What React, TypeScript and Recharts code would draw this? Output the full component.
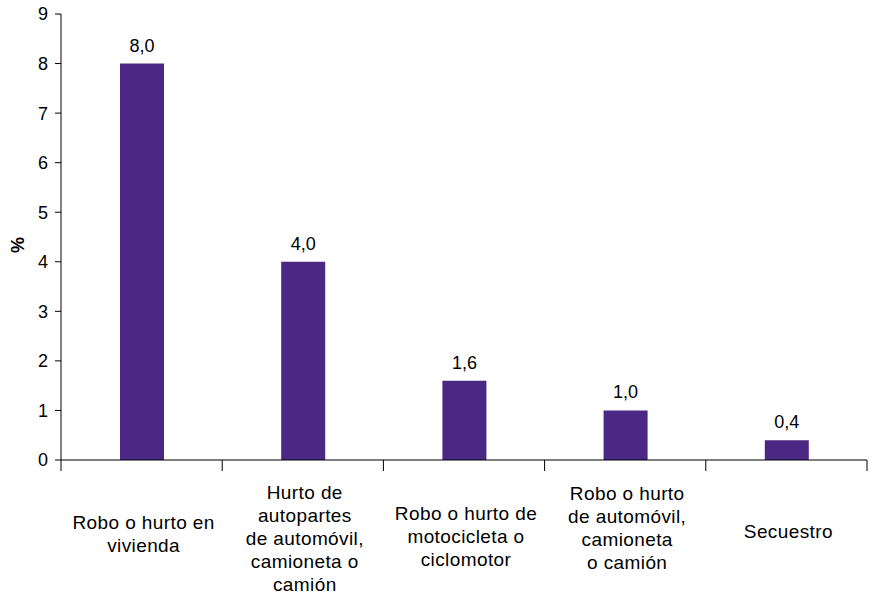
import React from 'react';
import { BarChart, Bar, XAxis, YAxis, LabelList } from 'recharts';

const categories = [
  'Robo o hurto en vivienda',
  'Hurto de autopartes de automóvil, camioneta o camión',
  'Robo o hurto de motocicleta o ciclomotor',
  'Robo o hurto de automóvil, camioneta o camión',
  'Secuestro',
];

const tickLines = [
  ['Robo o hurto en', 'vivienda'],
  ['Hurto de', 'autopartes', 'de automóvil,', 'camioneta o', 'camión'],
  ['Robo o hurto de', 'motocicleta o', 'ciclomotor'],
  ['Robo o hurto', 'de automóvil,', 'camioneta', 'o camión'],
  ['Secuestro'],
];

const values = [8.0, 4.0, 1.6, 1.0, 0.4];

const yTicks = [0, 1, 2, 3, 4, 5, 6, 7, 8, 9];

const data = categories.map((c, i) => ({ name: c, value: values[i], idx: i }));

const W = 871;
const H = 598;
const M = { top: 14, right: 4, left: 0, bottom: 0 };
const Y_AXIS_W = 61;
const X_AXIS_H = 138;
const PLOT_W = W - M.left - M.right - Y_AXIS_W;
const AXIS_Y = H - X_AXIS_H;
const FONT = '"Liberation Sans", Arial, Helvetica, sans-serif';
// first baseline offset below the axis line, per category
const FIRST_BASELINE = [69, 39, 60, 40, 78];
const LINE_H = 23;

const CategoryTick = (props: any) => {
  const { x, index } = props;
  const band = PLOT_W / categories.length;
  const left = x - band / 2;
  const lines = tickLines[index] || [];
  const first = AXIS_Y + FIRST_BASELINE[index];
  return (
    <g>
      <line x1={left} y1={AXIS_Y} x2={left} y2={AXIS_Y + 11} stroke="#000" strokeWidth={1} />
      {index === categories.length - 1 && (
        <line x1={x + band / 2} y1={AXIS_Y} x2={x + band / 2} y2={AXIS_Y + 11} stroke="#000" strokeWidth={1} />
      )}
      <text textAnchor="middle" fontSize={19} fontFamily={FONT} fill="#000" letterSpacing={0.4}>
        {lines.map((l, i) => (
          <tspan key={i} x={x + 2} y={first + i * LINE_H}>
            {l}
          </tspan>
        ))}
      </text>
    </g>
  );
};

const YLabel = () => (
  <text
    x={18}
    y={245}
    transform="rotate(-90 18 245)"
    textAnchor="middle"
    dominantBaseline="central"
    fontSize={18}
    fontWeight="bold"
    fontFamily={FONT}
    fill="#000"
  >
    %
  </text>
);

const fmt = (v: any) => Number(v).toFixed(1).replace('.', ',');

export default function App() {
  return (
    <div style={{ position: 'absolute', left: 0, top: 0, width: W, height: H, background: '#fff' }}>
      <BarChart width={W} height={H} data={data} margin={M}>
        <XAxis
          dataKey="name"
          height={X_AXIS_H}
          axisLine={{ stroke: '#000', strokeWidth: 1 }}
          tickLine={false}
          tick={<CategoryTick />}
          interval={0}
        />
        <YAxis
          width={Y_AXIS_W}
          domain={[0, 9]}
          ticks={yTicks}
          interval={0}
          allowDataOverflow
          axisLine={{ stroke: '#000', strokeWidth: 1 }}
          tickLine={{ stroke: '#000', strokeWidth: 1 }}
          tickSize={6}
          tickMargin={7}
          tick={{ fontSize: 18, fill: '#000', fontFamily: FONT }}
          label={<YLabel />}
        />
        <Bar dataKey="value" fill="#4A2883" barSize={44} isAnimationActive={false}>
          <LabelList
            dataKey="value"
            position="top"
            offset={12}
            formatter={fmt}
            style={{ fontSize: 18, fill: '#000', fontFamily: FONT }}
          />
        </Bar>
      </BarChart>
    </div>
  );
}
